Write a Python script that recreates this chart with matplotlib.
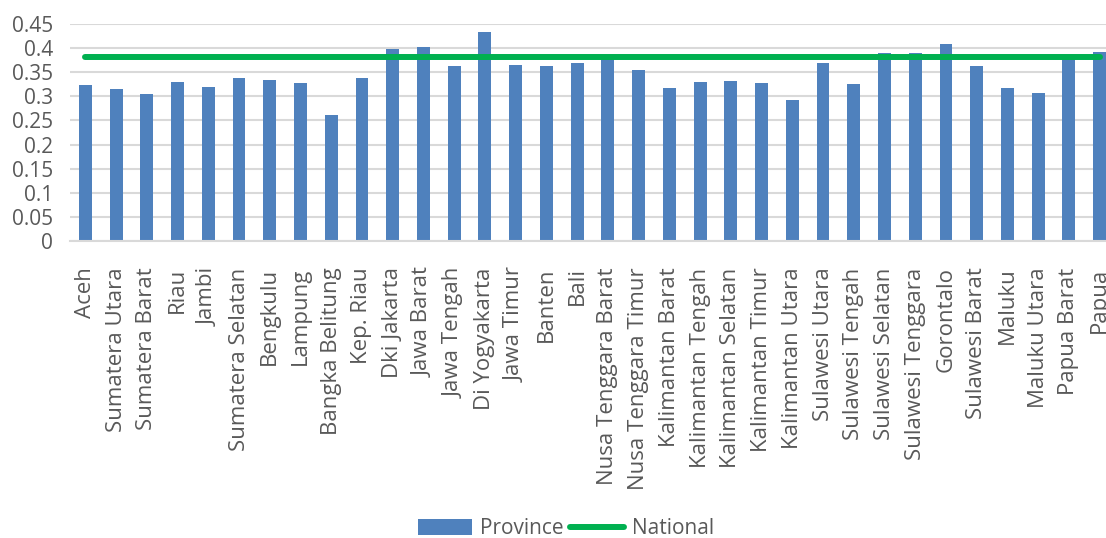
import matplotlib
matplotlib.use("Agg")
import matplotlib.pyplot as plt
import numpy as np

provinces = [
    "Aceh", "Sumatera Utara", "Sumatera Barat", "Riau", "Jambi",
    "Sumatera Selatan", "Bengkulu", "Lampung", "Bangka Belitung", "Kep. Riau",
    "Dki Jakarta", "Jawa Barat", "Jawa Tengah", "Di Yogyakarta", "Jawa Timur",
    "Banten", "Bali", "Nusa Tenggara Barat", "Nusa Tenggara Timur",
    "Kalimantan Barat", "Kalimantan Tengah", "Kalimantan Selatan",
    "Kalimantan Timur", "Kalimantan Utara", "Sulawesi Utara", "Sulawesi Tengah",
    "Sulawesi Selatan", "Sulawesi Tenggara", "Gorontalo", "Sulawesi Barat",
    "Maluku", "Maluku Utara", "Papua Barat", "Papua",
]
province_values = [
    0.323, 0.315, 0.305, 0.330, 0.319,
    0.338, 0.334, 0.328, 0.261, 0.338,
    0.398, 0.402, 0.363, 0.433, 0.365,
    0.363, 0.369, 0.381, 0.355,
    0.317, 0.330, 0.332,
    0.328, 0.292, 0.369, 0.326,
    0.390, 0.390, 0.409, 0.363,
    0.317, 0.307, 0.382, 0.392,
]
national_value = 0.381
y_ticks = [0, 0.05, 0.1, 0.15, 0.2, 0.25, 0.3, 0.35, 0.4, 0.45]
y_tick_labels = ["0", "0.05", "0.1", "0.15", "0.2", "0.25", "0.3", "0.35", "0.4", "0.45"]

plt.rcParams["font.family"] = ["Open Sans", "DejaVu Sans"]
text_color = "#595959"

fig = plt.figure(figsize=(11.06, 5.38), dpi=100)
# plot area runs a little past the right edge, as in the original crop
ax = fig.add_axes([70 / 1106, 297 / 538, 1045 / 1106, 217 / 538])

x = np.arange(len(provinces))
bars = ax.bar(x, province_values, width=0.42, color="#4F81BD", label="Province", zorder=2)
line, = ax.plot(x, [national_value] * len(provinces), color="#00B050", linewidth=4.3,
                solid_capstyle="round", label="National", zorder=3)

ax.set_xlim(-0.5, len(provinces) - 0.5)
ax.set_ylim(0, 0.45)
ax.set_yticks(y_ticks)
ax.set_yticklabels(y_tick_labels)
ax.set_xticks(x)
ax.set_xticklabels(provinces, rotation=90, va="top", ha="center")
ax.tick_params(axis="y", length=0, pad=12, labelsize=15, labelcolor=text_color)
ax.tick_params(axis="x", length=0, pad=19, labelsize=16, labelcolor=text_color)
ax.grid(axis="y", color="#D9D9D9", linewidth=1.5, zorder=0)
ax.set_axisbelow(True)
for side in ["top", "right", "left"]:
    ax.spines[side].set_visible(False)
ax.spines["bottom"].set_color("#D9D9D9")
ax.spines["bottom"].set_linewidth(1.5)

leg = fig.legend([bars, line], ["Province", "National"], loc="center",
                 bbox_to_anchor=(566 / 1106, 1 - 529 / 538), ncol=2,
                 frameon=False, fontsize=15, handlelength=2.6, handleheight=0.8,
                 columnspacing=0.3, handletextpad=0.4)
for t in leg.get_texts():
    t.set_color(text_color)

fig.savefig("out.png", dpi=100)
